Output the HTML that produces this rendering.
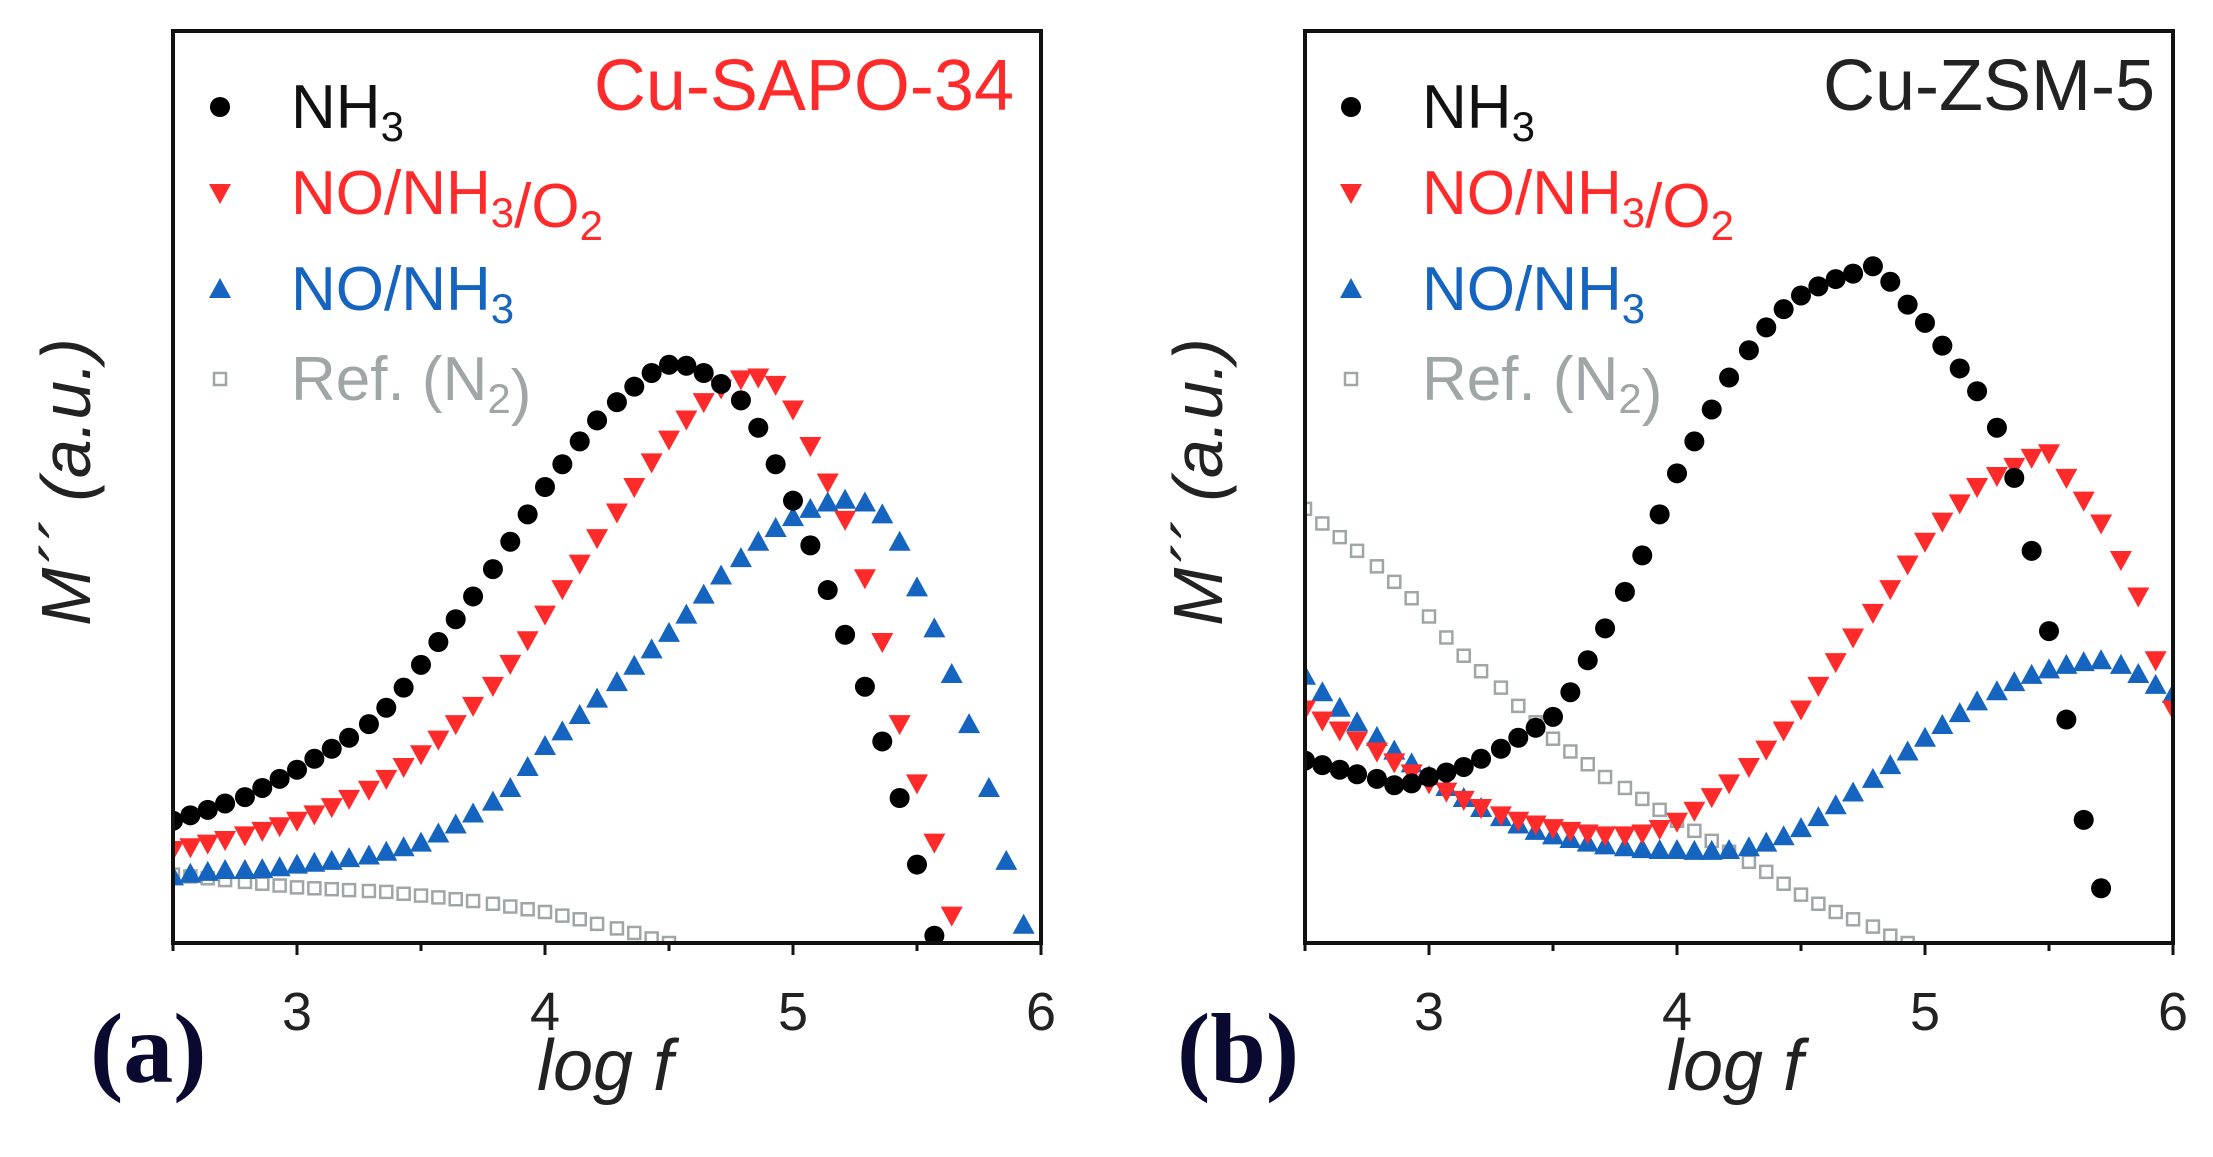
<!DOCTYPE html>
<html><head><meta charset="utf-8"><style>
html,body{margin:0;padding:0;background:#fff;}
svg{display:block;}
</style></head><body>
<svg id="fig" width="2213" height="1157" viewBox="0 0 2213 1157" xmlns="http://www.w3.org/2000/svg" font-family="Liberation Sans, sans-serif"></svg>
<script>
const logF=[2.50,2.57,2.64,2.71,2.79,2.86,2.93,3.00,3.07,3.14,3.21,3.29,3.36,3.43,3.50,3.57,3.64,3.71,3.79,3.86,3.93,4.00,4.07,4.14,4.21,4.29,4.36,4.43,4.50,4.57,4.64,4.71,4.79,4.86,4.93,5.00,5.07,5.14,5.21,5.29,5.36,5.43,5.50,5.57,5.64,5.71,5.79,5.86,5.93,6.00];
const xTicks=[3,4,5,6];
const legendLabels=["NH3","NO/NH3/O2","NO/NH3","Ref. (N2)"];
// Panel a: Cu-SAPO-34
const aNH3=[13.4,14,14.6,15.3,16,17,18,19,20.2,21.3,22.5,24,25.8,28,30.5,33,35.5,38,41,44,47,50,52.5,55,57.3,59.3,61,62.5,63.4,63.3,62.5,61.3,59.5,56.5,52.5,48.5,43.6,38.7,33.8,28.1,22.1,15.9,8.6,0.8];
const aMix=[10.2,10.5,10.9,11.3,11.8,12.3,12.8,13.4,14.1,14.9,15.8,16.8,18,19.3,20.7,22.3,24,26,28.2,30.6,33.2,36,38.8,41.6,44.4,47.2,50,52.7,55.2,57.4,59.3,60.8,61.8,62,61.2,58.5,54.5,50.5,46.4,40,33,24,17.5,11,3];
const aNO=[7.3,7.6,7.8,8,8,8.1,8.3,8.6,8.8,9,9.3,9.6,10,10.5,11,12,13,14.2,15.5,17,19.3,21.6,23.2,25,26.8,28.6,30.4,32.2,34,36,38.2,40.3,42.2,44,45.5,46.7,47.6,48.3,48.6,48.3,47,44,39,34.5,29.5,24,17,9,2];
const aRef=[7.5,7.3,7.1,6.9,6.7,6.5,6.3,6.1,6,5.9,5.8,5.7,5.6,5.4,5.2,5,4.8,4.6,4.3,4,3.7,3.4,3,2.6,2.1,1.6,1.1,0.5,0];
// Panel b: Cu-ZSM-5
const bNH3=[20,19.5,19,18.5,18,17.3,17.5,18.2,18.7,19.3,20.2,21.3,22.5,23.6,24.8,27.5,31,34.5,38.5,42.5,47,51.5,55,58.5,62,65,67.5,69.5,71,72,72.8,73.4,74.2,72.5,70,68,65.5,63,60.5,56.5,51,43,34.2,24.5,13.5,6];
const bMix=[25.6,24.4,23.3,22.2,21,19.8,18.6,17.5,16.6,15.7,14.8,14,13.4,13,12.6,12.3,12,11.8,11.8,12,12.5,13.3,14.5,16,17.5,19.3,21.2,23.3,25.6,28.2,30.8,33.5,36.2,38.8,41.5,44,46.2,48.2,50,51.2,52.2,53.2,53.7,51,48.5,46,42,38,31,25.6];
const bNO=[29.3,27.5,25.8,24.2,22.6,21.1,19.7,18.3,17.1,15.9,14.8,13.8,13,12.3,11.8,11.4,11,10.7,10.5,10.3,10.2,10.2,10.1,10.1,10.2,10.5,11,11.7,12.6,13.8,15.1,16.5,18,19.5,21,22.5,23.9,25.2,26.5,27.6,28.6,29.4,30,30.5,30.8,31,30.5,29.5,28.3,27.3];
const bRef=[47.6,46,44.5,43,41.3,39.6,37.8,35.8,33.5,31.5,29.8,28,26,24.2,22.4,21,19.6,18.2,17,15.8,14.6,13.4,12.3,11.2,10,8.9,7.8,6.5,5.3,4.3,3.4,2.6,1.8,0.8,0];

const NS="http://www.w3.org/2000/svg";
const svg=document.getElementById('fig');
function mk(tag,attrs,parent){const e=document.createElementNS(NS,tag);for(const k in attrs)e.setAttribute(k,attrs[k]);(parent||svg).appendChild(e);return e;}
const RED="#ff2a2a",BLUE="#1565c0",GRAY="#a0a6a6";
function marker(kind,x,y,color,parent){
  if(kind==='circle')return mk('circle',{cx:x,cy:y,r:10,fill:color},parent);
  if(kind==='down')return mk('polygon',{points:`${x-11},${y-9} ${x+11},${y-9} ${x},${y+11}`,fill:color},parent);
  if(kind==='up')return mk('polygon',{points:`${x-11},${y+9} ${x+11},${y+9} ${x},${y-11}`,fill:color},parent);
  return mk('rect',{x:x-6,y:y-6,width:12,height:12,fill:'none',stroke:color,'stroke-width':2.5},parent);
}
function panel(cfg){
  const g=mk('g',{});
  
  
  const L=cfg.left,R=cfg.right,T=31,B=943;
  const xs=v=>L+(v-2.5)/3.5*(R-L);
  const ys=v=>B-v/100*(B-T);
  const clip='clip-'+cfg.name;
  const cp=mk('clipPath',{id:clip},g);mk('rect',{x:L,y:T,width:R-L,height:B-T},cp);
  const plot=mk('g',{'clip-path':'url(#'+clip+')'},g);
  
  
  function series(vals,kind,color,name){
    const sg=mk('g',{},plot);
    
    
    vals.forEach((v,i)=>{
      const m=marker(kind,xs(logF[i]),ys(v),color,sg);
      
      
    });
  }
  series(cfg.ref,'square',GRAY,'series-ref-n2');
  series(cfg.no,'up',BLUE,'series-no-nh3');
  series(cfg.mix,'down',RED,'series-no-nh3-o2');
  series(cfg.nh3,'circle','#000','series-nh3');
  const fr=mk('rect',{x:L,y:T,width:R-L,height:B-T,fill:'none',stroke:'#111','stroke-width':4},g);
  
  
  for(let v=2.5;v<=6.001;v+=0.5){
    const x=xs(v);const major=Math.abs(v-Math.round(v))<0.01;
    const t=mk('line',{x1:x,x2:x,y1:B,y2:B+(major?12:8),stroke:'#111','stroke-width':3},g);
    
    
  }
  xTicks.forEach(v=>{
    const t=mk('text',{x:xs(v),y:1030,'font-size':54,'text-anchor':'middle',fill:'#222'},g);
    t.textContent=v;
    
    
  });
  const xl=mk('text',{x:cfg.xlabX,y:1090,'font-size':72,'font-style':'italic','text-anchor':'middle',fill:'#222'},g);
  xl.textContent='log f';
  
  
  const yl=mk('text',{x:0,y:0,'font-size':70,'font-style':'italic','text-anchor':'middle',fill:'#222',transform:`translate(${cfg.ylabX},482) rotate(-90)`},g);
  yl.textContent='M´´ (a.u.)';
  
  
  const pl=mk('text',{x:cfg.plX,y:1082,'font-size':100,'font-weight':'bold',style:'font-family:"Liberation Serif",serif',fill:'#0a0a30'},g);
  pl.textContent=cfg.letter;
  
  
  const ti=mk('text',{x:cfg.titleX,y:110,'font-size':72,'text-anchor':'end',fill:cfg.titleColor},g);
  ti.textContent=cfg.title;
  
  
  const rows=[107,193,289,379];const cols=['#000',RED,BLUE,GRAY];const kinds=['circle','down','up','square'];
  const tcol=['#111',RED,BLUE,GRAY];
  rows.forEach((ry,i)=>{
    const lg=mk('g',{},g);
    
    
    marker(kinds[i],cfg.legX,ry,cols[i],lg);
    const t=mk('text',{x:cfg.legTX,y:ry+21,'font-size':62,fill:tcol[i]},lg);
    const parts=legendLabels[i].split(/(\d)/);
    parts.forEach(p=>{if(!p)return;const s=mk('tspan',{},t);
      if(/\d/.test(p)){s.setAttribute('font-size',42);s.setAttribute('dy',13);s.textContent=p;const r=mk('tspan',{dy:-13},t);r.textContent='';}
      else s.textContent=p;});
  });
}
panel({name:'panel-a',left:173,right:1041,nh3:aNH3,mix:aMix,no:aNO,ref:aRef,xlabX:605,ylabX:90,plX:90,letter:'(a)',title:'Cu-SAPO-34',titleX:1014,titleColor:RED,legX:220,legTX:291});
panel({name:'panel-b',left:1305,right:2173,nh3:bNH3,mix:bMix,no:bNO,ref:bRef,xlabX:1735,ylabX:1222,plX:1177,letter:'(b)',title:'Cu-ZSM-5',titleX:2155,titleColor:'#222',legX:1351,legTX:1422});
</script>
</body></html>
